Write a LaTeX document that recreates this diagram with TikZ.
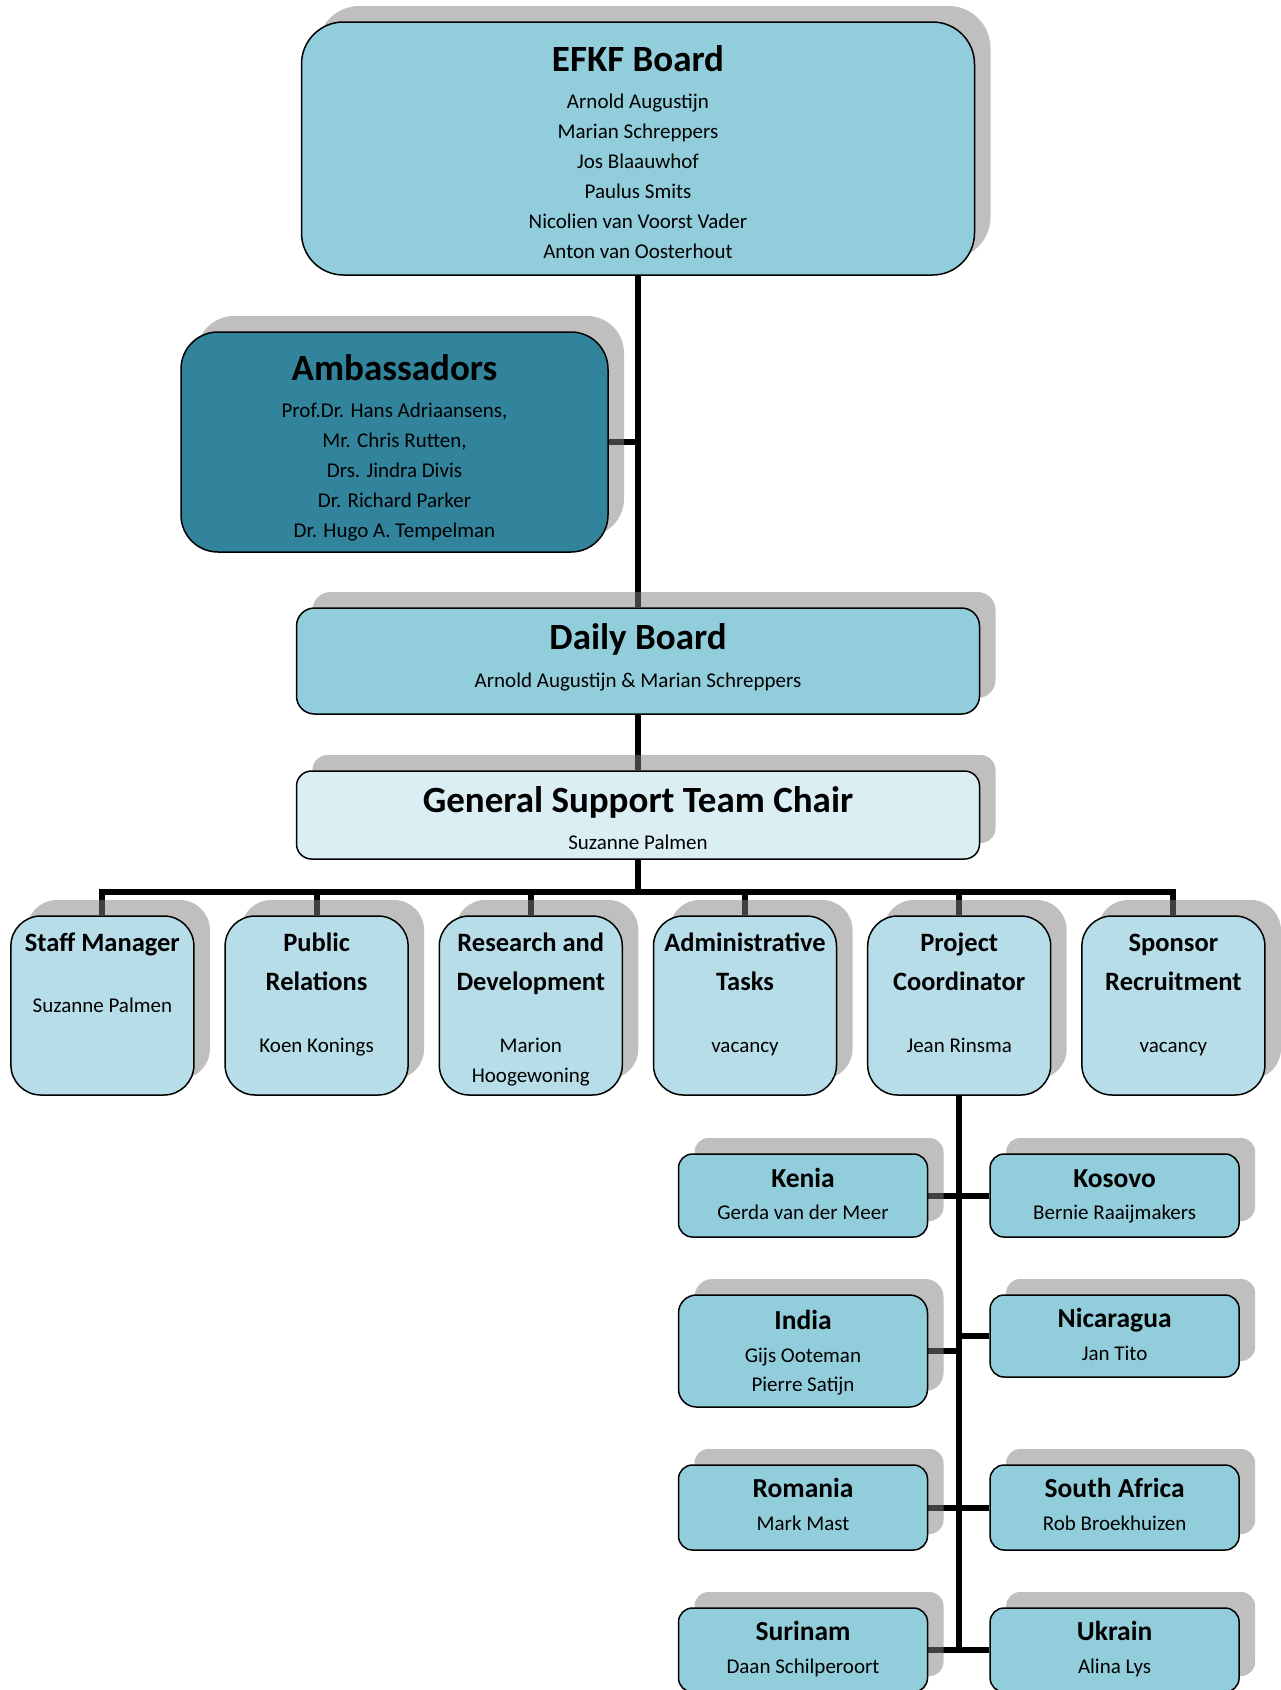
\documentclass[tikz,border=0pt]{standalone}
\usepackage{fontspec}
\setmainfont{Carlito}
\usetikzlibrary{shadows,backgrounds}
\definecolor{lb}{HTML}{92CDDC}
\definecolor{mb}{HTML}{B7DEE8}
\definecolor{pb}{HTML}{DAEEF3}
\definecolor{db}{HTML}{31849B}
\newcommand\Ln[2]{\vbox to0pt{\vskip#1pt\hbox to0pt{\hss\smash{#2}\hss}\vss}\ignorespaces}
\newcommand\Tbig{\fontsize{37}{40}\selectfont\bfseries}
\newcommand\Tsix{\fontsize{26.5}{30}\selectfont\bfseries}
\newcommand\Tcty{\fontsize{27.5}{30}\selectfont\bfseries}
\tikzset{
  orgbox/.style={draw=black, line width=1.5pt, inner sep=0pt,
    general shadow={fill=black!50, opacity=.5, shadow xshift=16pt, shadow yshift=16pt},
    font=\fontsize{21}{25}\selectfont},
  sixbox/.style={orgbox, fill=mb, minimum width=183pt, minimum height=179pt, rounded corners=30pt},
  ctybox/.style={orgbox, fill=lb, minimum width=249pt, rounded corners=14pt},
  conn/.style={line width=6pt, draw=black}
}
\begin{document}
\begin{tikzpicture}[x=1pt,y=-1pt]
\useasboundingbox (0,0) rectangle (1281,1690);
% top chain
\node[orgbox, fill=lb, minimum width=673pt, minimum height=253pt, rounded corners=42pt] (efkf) at (638,148.5)
 {\Ln{-77.5}{\Tbig EFKF Board}\Ln{-40.5}{Arnold Augustijn}\Ln{-10.5}{Marian Schreppers}\Ln{19.5}{Jos Blaauwhof}\Ln{49.5}{Paulus Smits}\Ln{79.5}{Nicolien van Voorst Vader}\Ln{109.5}{Anton van Oosterhout}};
\node[orgbox, fill=db, minimum width=427pt, minimum height=220pt, rounded corners=37pt] (amb) at (394.5,442)
 {\Ln{-62}{\Tbig Ambassadors}\Ln{-25}{Prof.Dr. Hans Adriaansens,}\Ln{5}{Mr. Chris Rutten,}\Ln{35}{Drs. Jindra Divis}\Ln{65}{Dr. Richard Parker}\Ln{95}{Dr. Hugo A. Tempelman}};
\node[orgbox, fill=lb, minimum width=683pt, minimum height=106pt, rounded corners=18pt] (daily) at (638,661)
 {\Ln{-12}{\Tbig Daily Board}\Ln{26}{Arnold Augustijn \& Marian Schreppers}};
\node[orgbox, fill=pb, minimum width=683pt, minimum height=88pt, rounded corners=15pt] (gstc) at (638,815)
 {\Ln{-3}{\Tbig General Support Team Chair}\Ln{34}{Suzanne Palmen}};
% six departments
\node[sixbox] (sm) at (102.4,1005.5) {\Ln{-54.5}{\Tsix Staff Manager}\Ln{6.5}{Suzanne Palmen}};
\node[sixbox] (pr) at (316.6,1005.5) {\Ln{-54.5}{\Tsix Public}\Ln{-15.5}{\Tsix Relations}\Ln{46.5}{Koen Konings}};
\node[sixbox] (rd) at (530.8,1005.5) {\Ln{-54.5}{\Tsix Research and}\Ln{-15.5}{\Tsix Development}\Ln{46.5}{Marion}\Ln{76.5}{Hoogewoning}};
\node[sixbox] (at) at (745,1005.5) {\Ln{-54.5}{\Tsix Administrative}\Ln{-15.5}{\Tsix Tasks}\Ln{46.5}{vacancy}};
\node[sixbox] (pc) at (959.2,1005.5) {\Ln{-54.5}{\Tsix Project}\Ln{-15.5}{\Tsix Coordinator}\Ln{46.5}{Jean Rinsma}};
\node[sixbox] (sr) at (1173.4,1005.5) {\Ln{-54.5}{\Tsix Sponsor}\Ln{-15.5}{\Tsix Recruitment}\Ln{46.5}{vacancy}};
% countries
\node[ctybox, minimum height=83pt] (ken) at (803,1195.5) {\Ln{-8.5}{\Tcty Kenia}\Ln{23.5}{Gerda van der Meer}};
\node[ctybox, minimum height=83pt] (kos) at (1114.6,1195.5) {\Ln{-8.5}{\Tcty Kosovo}\Ln{23.5}{Bernie Raaijmakers}};
\node[ctybox, minimum height=112pt, rounded corners=18pt] (ind) at (803,1351) {\Ln{-22}{\Tcty India}\Ln{11}{Gijs Ooteman}\Ln{40}{Pierre Satijn}};
\node[ctybox, minimum height=82pt] (nic) at (1114.6,1336) {\Ln{-9}{\Tcty Nicaragua}\Ln{24}{Jan Tito}};
\node[ctybox, minimum height=85pt] (rom) at (803,1507.5) {\Ln{-10.5}{\Tcty Romania}\Ln{22.5}{Mark Mast}};
\node[ctybox, minimum height=85pt] (saf) at (1114.6,1507.5) {\Ln{-10.5}{\Tcty South Africa}\Ln{22.5}{Rob Broekhuizen}};
\node[ctybox, minimum height=84pt] (sur) at (803,1650) {\Ln{-10}{\Tcty Surinam}\Ln{23}{Daan Schilperoort}};
\node[ctybox, minimum height=84pt] (ukr) at (1114.6,1650) {\Ln{-10}{\Tcty Ukrain}\Ln{23}{Alina Lys}};
\coordinate (bus) at (638,892);
\begin{scope}[on background layer]
\fill[white] (0,0) rectangle (1281,1690);
\draw[conn] (efkf.south) -- (daily.north);
\draw[conn] (amb.east) -- (amb.east -| efkf.south);
\draw[conn] (daily.south) -- (gstc.north);
\draw[conn] (gstc.south) -- (bus);
\draw[conn] (sm.north) |- (bus) -| (sr.north);
\draw[conn] (pr.north) -- (pr.north |- bus);
\draw[conn] (rd.north) -- (rd.north |- bus);
\draw[conn] (at.north) -- (at.north |- bus);
\draw[conn] (pc.north) -- (pc.north |- bus);
\draw[conn] (pc.south) -- (pc.south |- sur.east);
\draw[conn] (ken.east) -- (ken.east -| pc.south);
\draw[conn] (kos.west) -- (kos.west -| pc.south);
\draw[conn] (ind.east) -- (ind.east -| pc.south);
\draw[conn] (nic.west) -- (nic.west -| pc.south);
\draw[conn] (rom.east) -- (rom.east -| pc.south);
\draw[conn] (saf.west) -- (saf.west -| pc.south);
\draw[conn] (sur.east) -- (sur.east -| pc.south);
\draw[conn] (ukr.west) -- (ukr.west -| pc.south);
\end{scope}
\end{tikzpicture}
\end{document}
